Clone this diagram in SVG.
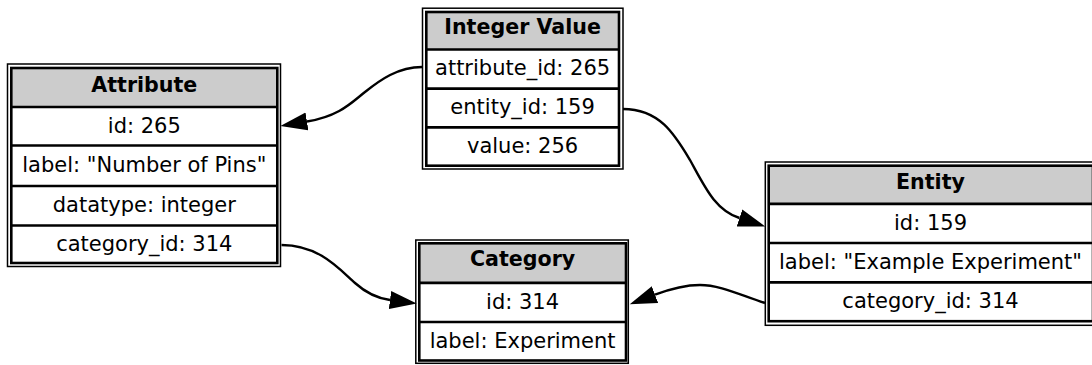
<svg xmlns="http://www.w3.org/2000/svg" width="1092" height="365" viewBox="0 0 1092 365">
<style>
.outer{fill:#ffffff;stroke:#000;stroke-width:1.5}
.inner{fill:none;stroke:#000;stroke-width:2.6}
.head{fill:#cccccc;stroke:none}
.div{stroke:#000;stroke-width:2.7}
text{font-family:"DejaVu Sans","Liberation Sans",sans-serif;font-size:21px;text-anchor:middle;fill:#000}
.h{font-weight:bold;font-size:20.6px}
.edge{fill:none;stroke:#000;stroke-width:2.4}
</style>
<defs>
<marker id="arr" markerUnits="userSpaceOnUse" markerWidth="28" markerHeight="20" refX="0" refY="9.5" orient="auto" viewBox="0 0 28 20">
<path d="M0,0.5 L27,9.5 L0,18.5 Z" fill="#000"/>
</marker>
</defs>
<g id="attribute">
<rect class="outer" x="7.5" y="64" width="273" height="202.5"/>
<rect class="head" x="11.3" y="68" width="266" height="39"/>
<rect class="inner" x="11.3" y="68" width="266" height="195"/>
<line class="div" x1="11.3" y1="107" x2="277.3" y2="107"/>
<line class="div" x1="11.3" y1="145.5" x2="277.3" y2="145.5"/>
<line class="div" x1="11.3" y1="186" x2="277.3" y2="186"/>
<line class="div" x1="11.3" y1="225.5" x2="277.3" y2="225.5"/>
<text class="h" x="144.3" y="91.5">Attribute</text>
<text x="144.3" y="132.5">id: 265</text>
<text x="144.3" y="172">label: "Number of Pins"</text>
<text x="144.3" y="212">datatype: integer</text>
<text x="144.3" y="250.5">category_id: 314</text>
</g>
<g id="integer_value">
<rect class="outer" x="422.5" y="8.2" width="200.5" height="160.8"/>
<rect class="head" x="426.3" y="12" width="192.7" height="37.5"/>
<rect class="inner" x="426.3" y="12" width="192.7" height="153.7"/>
<line class="div" x1="426.3" y1="49.5" x2="619" y2="49.5"/>
<line class="div" x1="426.3" y1="88.7" x2="619" y2="88.7"/>
<line class="div" x1="426.3" y1="127.3" x2="619" y2="127.3"/>
<text class="h" x="522.6" y="34">Integer Value</text>
<text x="522.6" y="75">attribute_id: 265</text>
<text x="522.6" y="113.5">entity_id: 159</text>
<text x="522.6" y="152.5">value: 256</text>
</g>
<g id="category">
<rect class="outer" x="415.8" y="240" width="212.5" height="123.3"/>
<rect class="head" x="419.3" y="243.3" width="206.7" height="39.5"/>
<rect class="inner" x="419.3" y="243.3" width="206.7" height="117.2"/>
<line class="div" x1="419.3" y1="282.8" x2="626" y2="282.8"/>
<line class="div" x1="419.3" y1="322" x2="626" y2="322"/>
<text class="h" x="522.6" y="266">Category</text>
<text x="522.6" y="308.5">id: 314</text>
<text x="522.6" y="347.5">label: Experiment</text>
</g>
<g id="entity">
<rect class="outer" x="765.3" y="162" width="331" height="163.3"/>
<rect class="head" x="768.7" y="165.7" width="324.3" height="38.1"/>
<rect class="inner" x="768.7" y="165.7" width="324.3" height="155.5"/>
<line class="div" x1="768.7" y1="203.8" x2="1093" y2="203.8"/>
<line class="div" x1="768.7" y1="243" x2="1093" y2="243"/>
<line class="div" x1="768.7" y1="282.3" x2="1093" y2="282.3"/>
<text class="h" x="930.5" y="188.5">Entity</text>
<text x="930.5" y="229.5">id: 159</text>
<text x="930.5" y="268.5">label: "Example Experiment"</text>
<text x="930.5" y="308">category_id: 314</text>
</g>
<g id="connectors">
<path class="edge" marker-end="url(#arr)" d="M422,67 C398,67 380,80 365,92 C352,102 340,116 307,121.5"/>
<path class="edge" marker-end="url(#arr)" d="M281.5,245 C320,245 340,270 355,283 C365,292 375,298 390,300"/>
<path class="edge" marker-end="url(#arr)" d="M623,109 C660,109 675,135 690,160 C705,187 715,210 739.5,218"/>
<path class="edge" marker-end="url(#arr)" d="M765,303 C740,295 720,285 700,285 C685,285 670,289 655,294.7"/>
</g>
</svg>
